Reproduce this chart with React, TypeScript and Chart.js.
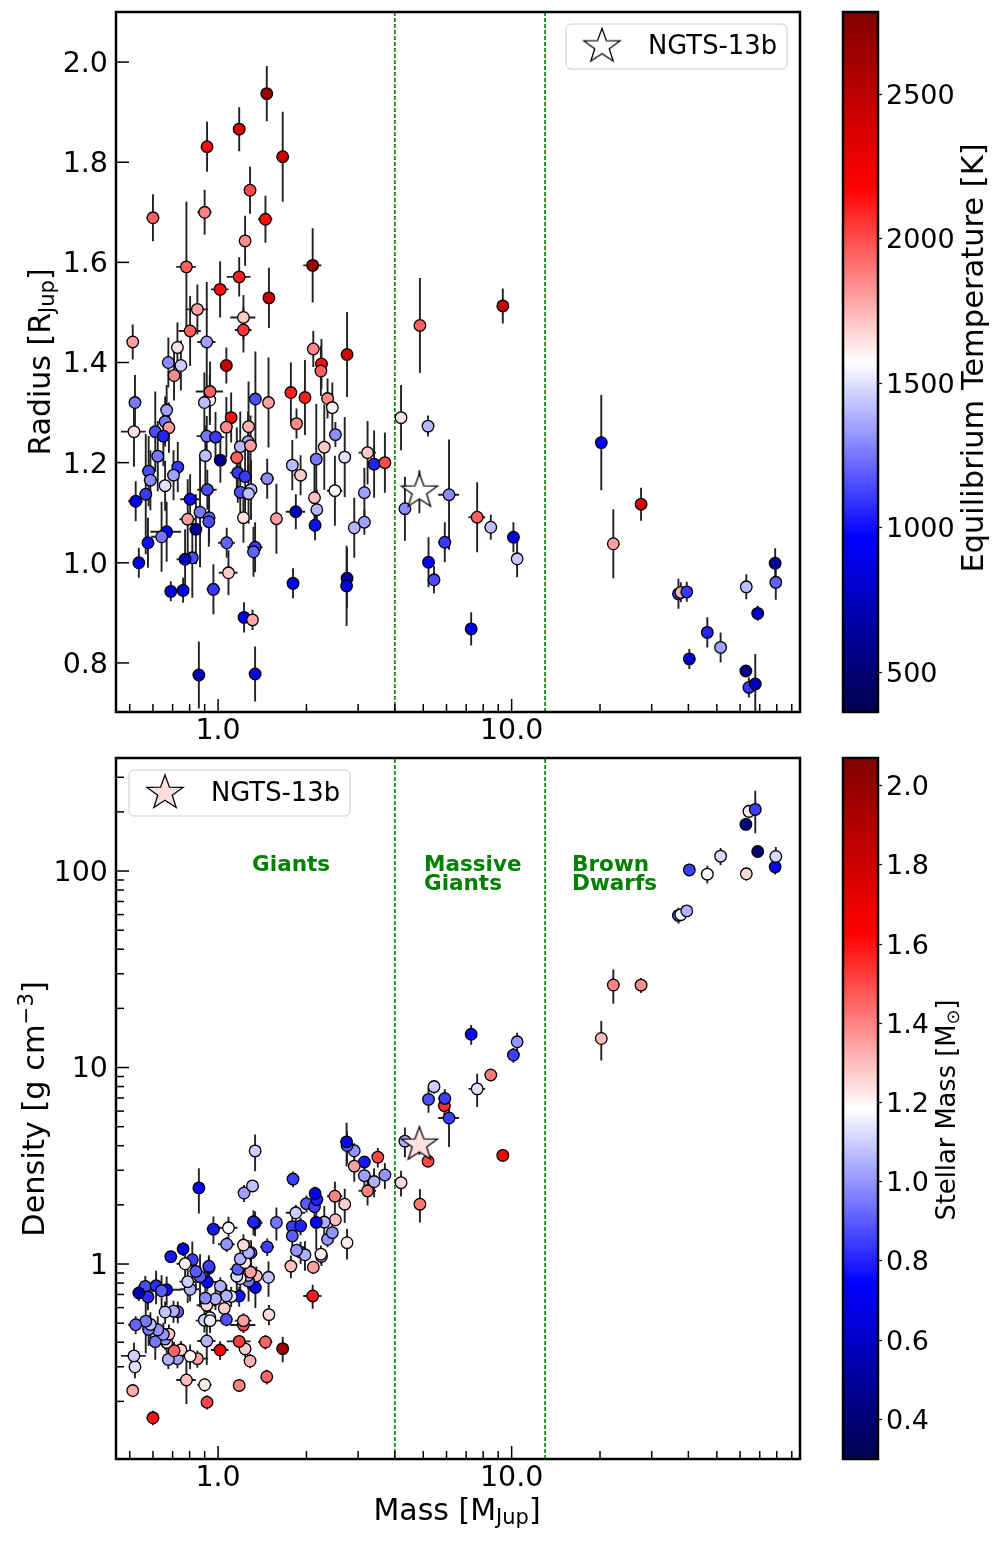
import { useEffect, useRef } from "react"
import { Chart, registerables } from "chart.js"

Chart.register(...registerables)

// Planets, same order in every list. The first 11 are only readable in the density panel.
const massValues = [
  5.9, 2.91, 3.5, 2.0, 1.79, 1.91, 0.565, 0.615, 1.05, 1.18, 1.35,
  1.465, 1.18, 0.917, 1.66, 1.285, 0.6, 0.9, 1.45, 1.236, 0.78,
  2.1, 1.18, 1.016, 1.49, 0.85, 1.22, 1.22, 0.803, 0.512, 0.915,
  0.727, 2.75, 2.11, 0.677, 0.747, 0.708, 1.067, 2.25, 2.24, 1.77,
  1.977, 2.36, 2.45, 0.937, 0.521, 0.898, 0.939, 1.34, 1.485, 0.668,
  0.66, 0.68, 1.108, 1.067, 1.27, 1.85, 2.51, 0.517, 0.611, 0.651,
  0.915, 0.98, 1.265, 1.19, 1.29, 2.3, 0.623, 0.905, 1.018, 1.158,
  2.16, 2.7, 1.79, 3.23, 3.4, 3.7, 0.729, 0.58, 0.705, 1.167,
  1.236, 1.91, 1.47, 0.588, 0.66, 1.295, 0.919, 2.5, 3.15, 1.19,
  1.27, 0.567, 0.524, 0.803, 2.13, 2.17, 1.84, 0.868, 0.932, 0.93,
  1.22, 1.58, 0.788, 0.84, 0.668, 0.642, 2.14, 3.15, 2.91, 1.07,
  0.577, 1.337, 1.32, 0.817, 0.772, 0.537, 1.085, 1.8, 2.75, 2.74,
  0.964, 1.226, 1.31, 0.86, 1.337, 0.69, 0.76, 9.33, 4.87, 4.2,
  5.19, 20.2, 27.6, 22.2, 4.33, 6.12, 7.63, 8.49, 10.14, 10.44,
  5.92, 5.21, 5.44, 7.28, 37, 37.7, 39.5, 40.3, 46.4, 51.5,
  63, 68.9, 79, 79.4, 62.8, 64.3, 67.6,
]
const massErrors = [
  0.3, 0.05, 0.05, 0.05, 0.04, 0.05, 0.03, 0.02, 0.03, 0.03, 0.03,
  0.06, 0.05, 0.03, 0.08, 0.04, 0.03, 0.05, 0.08, 0.04, 0.06,
  0.15, 0.11, 0.07, 0.06, 0.075, 0.12, 0.08, 0.07, 0.02, 0.065,
  0.03, 0.06, 0.05, 0.03, 0.03, 0.03, 0.04, 0.1, 0.1, 0.04,
  0.05, 0.05, 0.05, 0.03, 0.02, 0.03, 0.1, 0.05, 0.05, 0.03,
  0.03, 0.03, 0.04, 0.04, 0.04, 0.04, 0.05, 0.05, 0.02, 0.03,
  0.07, 0.07, 0.05, 0.05, 0.05, 0.1, 0.03, 0.03, 0.03, 0.06,
  0.05, 0.06, 0.04, 0.22, 0.05, 0.05, 0.02, 0.03, 0.03, 0.07,
  0.04, 0.1, 0.08, 0.03, 0.03, 0.04, 0.07, 0.15, 0.05, 0.05,
  0.05, 0.02, 0.03, 0.06, 0.05, 0.07, 0.14, 0.03, 0.03, 0.03,
  0.05, 0.06, 0.05, 0.04, 0.08, 0.05, 0.05, 0.05, 0.03, 0.07,
  0.02, 0.08, 0.05, 0.02, 0.05, 0.02, 0.08, 0.04, 0.06, 0.03,
  0.05, 0.04, 0.02, 0.02, 0.02, 0.02, 0.02, 0.1, 0.05, 0.05,
  0.05, 0.8, 0.4, 0.4, 0.05, 0.5, 0.5, 0.1, 0.1, 0.1,
  0.3, 0.05, 0.05, 0.1, 0.5, 0.5, 0.5, 0.5, 1.5, 0.6,
  0.6, 0.6, 0.6, 0.6, 0.6, 0.6, 0.6,
]
const radiusValues = [
  null, null, null, null, null, null, null, null, null, null, null,
  1.937, 1.866, 1.831, 1.811, 1.744, 1.689, 1.7, 1.686, 1.643, 1.591,
  1.594, 1.571, 1.546, 1.529, 1.506, 1.49, 1.465, 1.463, 1.441, 1.441,
  1.43, 1.416, 1.427, 1.4, 1.394, 1.374, 1.394, 1.397, 1.383, 1.34,
  1.33, 1.328, 1.31, 1.325, 1.32, 1.32, 1.342, 1.327, 1.32, 1.305,
  1.282, 1.27, 1.29, 1.271, 1.272, 1.278, 1.256, 1.262, 1.262, 1.253,
  1.253, 1.251, 1.242, 1.232, 1.234, 1.231, 1.213, 1.214, 1.205, 1.21,
  1.207, 1.211, 1.195, 1.22, 1.197, 1.2, 1.191, 1.183, 1.175, 1.18,
  1.172, 1.175, 1.168, 1.165, 1.154, 1.146, 1.146, 1.144, 1.14, 1.141,
  1.138, 1.137, 1.123, 1.127, 1.13, 1.106, 1.102, 1.101, 1.09, 1.082,
  1.09, 1.088, 1.087, 1.067, 1.062, 1.052, 1.075, 1.081, 1.07, 1.04,
  1.04, 1.031, 1.022, 1.01, 1.007, 1.0, 0.98, 0.959, 0.969, 0.954,
  0.947, 0.891, 0.886, 0.776, 0.778, 0.943, 0.945, 1.513, 1.474, 1.29,
  1.273, 1.24, 1.117, 1.038, 1.108, 1.136, 1.091, 1.071, 1.051, 1.008,
  1.041, 1.001, 0.966, 0.868, 0.938, 0.941, 0.942, 0.808, 0.861, 0.831,
  0.952, 0.899, 0.999, 0.961, 0.784, 0.751, 0.758,
]
const radiusErrors = [
  0, 0, 0, 0, 0, 0, 0, 0, 0, 0, 0,
  0.055, 0.044, 0.05, 0.09, 0.047, 0.047, 0.045, 0.047, 0.05, 0.13,
  0.074, 0.039, 0.056, 0.06, 0.05, 0.045, 0.045, 0.07, 0.035, 0.12,
  0.05, 0.085, 0.036, 0.05, 0.05, 0.05, 0.036, 0.05, 0.05, 0.06,
  0.075, 0.04, 0.05, 0.05, 0.055, 0.06, 0.06, 0.095, 0.09, 0.05,
  0.05, 0.05, 0.05, 0.06, 0.09, 0.03, 0.025, 0.07, 0.08, 0.06,
  0.04, 0.05, 0.06, 0.07, 0.06, 0.085, 0.07, 0.06, 0.045, 0.06,
  0.11, 0.08, 0.05, 0.063, 0.067, 0.06, 0.05, 0.07, 0.05, 0.06,
  0.07, 0.04, 0.04, 0.06, 0.05, 0.06, 0.04, 0.07, 0.05, 0.06,
  0.06, 0.12, 0.04, 0.05, 0.07, 0.04, 0.035, 0.11, 0.05, 0.05,
  0.05, 0.07, 0.08, 0.07, 0.06, 0.07, 0.03, 0.025, 0.06, 0.03,
  0.05, 0.05, 0.05, 0.08, 0.06, 0.03, 0.045, 0.03, 0.06, 0.08,
  0.05, 0.03, 0.02, 0.067, 0.055, 0.02, 0.025, 0.035, 0.095, 0.065,
  0.021, 0.095, 0.033, 0.069, 0.064, 0.11, 0.07, 0.025, 0.03, 0.037,
  0.04, 0.05, 0.027, 0.033, 0.03, 0.02, 0.02, 0.02, 0.03, 0.03,
  0.025, 0.015, 0.03, 0.035, 0.012, 0.02, 0.06,
]
const equilibriumTemps = [
  null, null, null, null, null, null, null, null, null, null, null,
  2650, 2350, 2150, 2400, 2000, 1950, 1880, 2150, 1850, 1950,
  2650, 2100, 2150, 2450, 1800, 1700, 2050, 1950, 1800, 1350,
  1650, 2400, 1850, 1300, 1450, 1850, 2450, 2150, 1950, 2100,
  2100, 1850, 1600, 1570, 1250, 1420, 1950, 1150, 1800, 1350,
  1250, 1800, 2150, 1850, 1750, 1850, 1300, 1650, 1150, 1050,
  1250, 1100, 1350, 1400, 1800, 1700, 1250, 1420, 600, 1950,
  1250, 1500, 1420, 1700, 1050, 2000, 1100, 1150, 1350, 1100,
  1100, 1700, 1300, 1300, 1500, 1400, 1150, 1550, 1350, 1150,
  1420, 1100, 950, 1000, 1720, 1400, 750, 1250, 1200, 1150,
  1650, 1800, 1800, 600, 950, 1250, 1000, 1350, 1400, 1200,
  1000, 1100, 1200, 1150, 750, 950, 1700, 950, 700, 900,
  1100, 900, 1780, 750, 900, 900, 950, 2450, 1950, 1650,
  1400, 950, 2350, 1800, 1300, 1300, 1950, 1420, 850, 1450,
  1100, 950, 1150, 950, 1100, 1750, 1100, 850, 1050, 1350,
  1420, 800, 650, 1200, 550, 1100, 750,
]
const densityValues = [
  6.4, 3.77, 3.5, 2.03, 1.55, 1.15, 0.77, 0.775, 0.595, 0.687, 0.87,
  0.267, 0.241, 0.198, 0.371, 0.321, 0.165, 0.243, 0.401, 0.37, 0.257,
  0.688, 0.404, 0.365, 0.553, 0.33, 0.489, 0.515, 0.34, 0.227, 0.406,
  0.33, 1.284, 0.963, 0.327, 0.366, 0.362, 0.522, 1.094, 1.123, 0.976,
  1.114, 1.336, 1.445, 0.534, 0.3, 0.518, 0.515, 0.76, 0.856, 0.399,
  0.415, 0.44, 0.684, 0.689, 0.818, 1.175, 1.68, 0.341, 0.403, 0.439,
  0.617, 0.664, 0.876, 0.844, 0.91, 1.635, 0.463, 0.671, 0.771, 0.867,
  1.629, 2.016, 1.391, 2.358, 2.629, 2.839, 0.572, 0.465, 0.576, 0.942,
  1.018, 1.561, 1.223, 0.493, 0.57, 1.141, 0.81, 2.214, 2.819, 1.062,
  1.143, 0.512, 0.491, 0.744, 1.957, 2.127, 1.823, 0.862, 0.954, 0.974,
  1.249, 1.627, 0.814, 0.917, 0.74, 0.731, 2.285, 3.306, 3.15, 1.261,
  0.68, 1.618, 1.64, 1.052, 1.003, 0.712, 1.529, 2.706, 4.008, 4.184,
  1.505, 2.298, 2.497, 2.44, 3.765, 1.091, 1.194, 3.57, 2.016, 2.594,
  3.336, 14.05, 26.26, 26.3, 4.22, 5.535, 7.79, 9.164, 11.58, 13.52,
  6.958, 6.888, 8.0, 14.76, 59.45, 60, 62.66, 101.3, 96.4, 119,
  96.8, 125.7, 105, 118.6, 172.8, 201.3, 205.8,
]
const densityErrors = [
  0.7, 0.35, 0.4, 0.2, 0.2, 0.15, 0.1, 0.15, 0.06, 0.08, 0.1,
  0.023, 0.017, 0.016, 0.055, 0.026, 0.014, 0.019, 0.034, 0.034, 0.063,
  0.096, 0.03, 0.04, 0.065, 0.033, 0.044, 0.047, 0.049, 0.017, 0.1,
  0.035, 0.23, 0.073, 0.035, 0.04, 0.04, 0.04, 0.117, 0.12, 0.13,
  0.19, 0.12, 0.165, 0.06, 0.038, 0.07, 0.07, 0.163, 0.175, 0.046,
  0.049, 0.052, 0.08, 0.098, 0.174, 0.083, 0.1, 0.057, 0.077, 0.063,
  0.059, 0.08, 0.127, 0.144, 0.133, 0.34, 0.08, 0.1, 0.086, 0.13,
  0.445, 0.4, 0.175, 0.37, 0.44, 0.43, 0.072, 0.082, 0.074, 0.144,
  0.18, 0.16, 0.126, 0.076, 0.074, 0.18, 0.085, 0.41, 0.37, 0.168,
  0.18, 0.16, 0.052, 0.1, 0.36, 0.23, 0.174, 0.26, 0.13, 0.135,
  0.17, 0.31, 0.18, 0.18, 0.125, 0.145, 0.19, 0.23, 0.53, 0.11,
  0.098, 0.235, 0.24, 0.25, 0.18, 0.064, 0.21, 0.25, 0.74, 1.05,
  0.24, 0.23, 0.17, 0.63, 0.8, 0.07, 0.095, 0.25, 0.39, 0.39,
  0.17, 3.2, 2.3, 5.2, 0.73, 1.6, 1.5, 0.65, 1.0, 1.5,
  0.8, 1.0, 0.65, 1.7, 5.5, 3.8, 4, 7.5, 10, 12,
  7.5, 6, 9, 14, 8, 16, 50,
]
const stellarMasses = [
  1.55, 1.0, 1.5, 0.9, 0.85, 0.9, 0.88, 0.82, 1.27, 0.78, 1.3,
  1.45, 1.4, 1.5, 1.95, 1.32, 1.6, 1.22, 1.45, 1.27, 1.3,
  1.58, 1.52, 1.65, 1.25, 1.35, 1.5, 1.35, 1.2, 1.33, 1.05,
  1.02, 1.22, 1.35, 1.05, 1.27, 1.45, 0.88, 1.05, 1.22, 1.3,
  1.05, 1.0, 1.0, 1.2, 1.13, 1.1, 1.15, 0.75, 1.08, 1.2,
  1.0, 1.28, 1.15, 1.05, 0.95, 1.0, 1.3, 1.1, 0.95, 1.0,
  1.25, 1.05, 1.08, 1.15, 1.35, 1.05, 1.0, 0.98, 1.05, 1.12,
  0.75, 1.27, 0.9, 1.4, 1.05, 1.0, 0.9, 0.95, 1.05, 0.9,
  1.22, 0.8, 0.85, 1.08, 1.08, 0.85, 0.75, 1.4, 1.02, 1.05,
  1.05, 0.95, 0.92, 1.05, 0.85, 0.8, 1.1, 0.9, 0.78, 0.85,
  1.25, 0.95, 1.1, 0.9, 0.75, 0.9, 0.72, 0.78, 1.35, 1.0,
  0.82, 0.7, 0.8, 0.85, 1.22, 0.55, 1.2, 0.85, 0.9, 0.75,
  0.78, 1.02, 1.08, 0.75, 1.1, 0.78, 0.68, 1.63, 1.42, 1.25,
  1.5, 1.3, 1.38, 1.4, 1.05, 0.85, 1.13, 1.42, 0.85, 1.0,
  0.85, 0.88, 1.1, 0.75, 0.9, 1.18, 1.05, 0.85, 1.2, 1.12,
  1.25, 0.4, 0.75, 1.12, 0.42, 1.22, 0.85,
]

// NGTS-13b
const starMass = 4.85
const starMassError = 0.1
const starRadius = 1.142
const starRadiusError = 0.043
const starDensity = 4.05
const starDensityError = 0.45
const starTopFill = "#ffffff"
const starBottomFill = "#ffe0e0"

const regionBounds = [4, 13]
const massTicks = [0.5, 0.6, 0.7, 0.8, 0.9, 1, 2, 3, 4, 5, 6, 7, 8, 9, 10, 20, 30, 40, 50, 60, 70, 80, 90]
const radiusTicks = [0.8, 1.0, 1.2, 1.4, 1.6, 1.8, 2.0]
const densityTicks = [0.2, 0.3, 0.4, 0.5, 0.6, 0.7, 0.8, 0.9, 1, 2, 3, 4, 5, 6, 7, 8, 9, 10, 20, 30, 40, 50, 60, 70, 80, 90, 100, 200, 300]
const tempTicks = [500, 1000, 1500, 2000, 2500]
const stellarTicks = [0.4, 0.6, 0.8, 1.0, 1.2, 1.4, 1.6, 1.8, 2.0]

const massRange = [0.449, 96]
const radiusRange = [0.702, 2.1]
const densityRange = [0.1018, 376]
const tempRange = [362, 2784]
const stellarRange = [0.3, 2.07]

const FONT = '"DejaVu Sans"'
const TICK_SIZE = 28.5
const BAR_TICK_SIZE = 27
// canvas "middle" sits a little high for these digits
const LABEL_NUDGE = 2.5

// seismic colormap
const seismicStops: [number, number[]][] = [
  [0, [0, 0, 76]],
  [0.25, [0, 0, 255]],
  [0.5, [255, 255, 255]],
  [0.75, [255, 0, 0]],
  [1, [128, 0, 0]],
]

function seismic(v: number | null, range: number[]) {
  if (v === null) return "rgba(0,0,0,0)"
  const t = Math.min(1, Math.max(0, (v - range[0]) / (range[1] - range[0])))
  for (let i = 1; i < seismicStops.length; i++) {
    const [t1, c1] = seismicStops[i]
    const [t0, c0] = seismicStops[i - 1]
    if (t <= t1) {
      const f = (t - t0) / (t1 - t0)
      const c = c0.map((a, k) => Math.round(a + (c1[k] - a) * f))
      return `rgb(${c[0]},${c[1]},${c[2]})`
    }
  }
  return "rgb(128,0,0)"
}

function makeStar(fill: string) {
  const c = document.createElement("canvas")
  c.width = 44
  c.height = 44
  const ctx = c.getContext("2d")!
  ctx.beginPath()
  for (let i = 0; i < 10; i++) {
    const r = i % 2 === 0 ? 1 : 0.4
    const a = -Math.PI / 2 + (i * Math.PI) / 5
    const px = 22 + 19 * r * Math.cos(a)
    const py = 22 + 18 * r * Math.sin(a)
    if (i === 0) ctx.moveTo(px, py)
    else ctx.lineTo(px, py)
  }
  ctx.closePath()
  ctx.fillStyle = fill
  ctx.fill()
  ctx.lineWidth = 1.3
  ctx.strokeStyle = "#000"
  ctx.stroke()
  return c
}

type Part = { t: string; kind?: "sub" | "sup" }

function drawRichText(ctx: CanvasRenderingContext2D, parts: Part[], cx: number, cy: number, rotation: number, size: number) {
  ctx.save()
  ctx.translate(cx, cy)
  ctx.rotate(rotation)
  ctx.fillStyle = "#000"
  ctx.textAlign = "left"
  ctx.textBaseline = "alphabetic"
  const fontFor = (p: Part) => `${p.kind ? size * 0.7 : size}px ${FONT}`
  let total = 0
  for (const p of parts) {
    ctx.font = fontFor(p)
    total += ctx.measureText(p.t).width
  }
  let x = -total / 2
  for (const p of parts) {
    ctx.font = fontFor(p)
    const dy = p.kind === "sub" ? size * 0.16 : p.kind === "sup" ? -size * 0.36 : 0
    ctx.fillText(p.t, x, size * 0.35 + dy)
    x += ctx.measureText(p.t).width
  }
  ctx.restore()
}

type PanelConfig = {
  yValues: (number | null)[]
  yErrors: number[]
  colorValues: (number | null)[]
  colorRange: number[]
  yType: "linear" | "logarithmic"
  yRange: number[]
  yTicks: number[]
  yMajor: (v: number) => boolean
  yLabel: (v: number) => string
  star: { x: number; xErr: number; y: number; yErr: number; fill: string }
  legendBox: number[]
  axisHeight: number
  paddingTop: number
  texts: { lines: string[]; mass: number; density: number[] }[]
  titles: { parts: Part[]; x: number; y: number; rotation: number; size: number }[]
}

function buildPanel(canvas: HTMLCanvasElement, cfg: PanelConfig) {
  const starCanvas = makeStar(cfg.star.fill)

  const errorBars = {
    id: "errorBars",
    beforeDatasetsDraw(chart: any) {
      const { ctx, chartArea, scales } = chart
      ctx.save()
      ctx.beginPath()
      ctx.rect(chartArea.left, chartArea.top, chartArea.width, chartArea.height)
      ctx.clip()
      ctx.strokeStyle = "#222"
      ctx.lineWidth = 1.9
      const bar = (m: number, mE: number, v: number, vE: number) => {
        const px = scales.x.getPixelForValue(m)
        const py = scales.y.getPixelForValue(v)
        ctx.beginPath()
        ctx.moveTo(scales.x.getPixelForValue(m - mE), py)
        ctx.lineTo(scales.x.getPixelForValue(m + mE), py)
        ctx.moveTo(px, scales.y.getPixelForValue(Math.max(v - vE, 1e-3)))
        ctx.lineTo(px, scales.y.getPixelForValue(v + vE))
        ctx.stroke()
      }
      massValues.forEach((m, i) => {
        const v = cfg.yValues[i]
        if (v !== null) bar(m, massErrors[i], v, cfg.yErrors[i])
      })
      bar(cfg.star.x, cfg.star.xErr, cfg.star.y, cfg.star.yErr)
      ctx.restore()
    },
  }

  const frame = {
    id: "frame",
    afterDraw(chart: any) {
      const { ctx, chartArea, scales } = chart
      ctx.save()
      // inward ticks
      ctx.strokeStyle = "#000"
      ctx.lineWidth = 1.5
      scales.x.ticks.forEach((t: any) => {
        const px = scales.x.getPixelForValue(t.value)
        ctx.beginPath()
        ctx.moveTo(px, chartArea.bottom)
        ctx.lineTo(px, chartArea.bottom - (t.major ? 13 : 8))
        ctx.stroke()
      })
      ctx.fillStyle = "#000"
      ctx.font = `${TICK_SIZE}px ${FONT}`
      ctx.textAlign = "right"
      ctx.textBaseline = "middle"
      scales.y.ticks.forEach((t: any) => {
        const py = scales.y.getPixelForValue(t.value)
        ctx.beginPath()
        ctx.moveTo(chartArea.left, py)
        ctx.lineTo(chartArea.left + (t.major ? 13 : 8), py)
        ctx.stroke()
        ctx.fillText(cfg.yLabel(t.value), chartArea.left - 8, py + LABEL_NUDGE)
      })
      ctx.lineWidth = 2.5
      ctx.strokeRect(chartArea.left, chartArea.top, chartArea.width, chartArea.height)

      // legend
      const [lx, ly, lw, lh] = cfg.legendBox
      ctx.beginPath()
      ctx.roundRect(lx, ly, lw, lh, 5)
      ctx.fillStyle = "rgba(255,255,255,0.8)"
      ctx.fill()
      ctx.lineWidth = 1
      ctx.strokeStyle = "#ccc"
      ctx.stroke()
      ctx.drawImage(starCanvas, lx + 36 - 22, ly + lh / 2 - 22)
      ctx.fillStyle = "#000"
      ctx.font = `25.8px ${FONT}`
      ctx.textAlign = "left"
      ctx.textBaseline = "middle"
      ctx.fillText("NGTS-13b", lx + 82, ly + lh / 2 + 1)

      // region names
      ctx.fillStyle = "#008000"
      ctx.font = `bold 21.5px ${FONT}`
      cfg.texts.forEach((txt) => {
        txt.lines.forEach((line, i) => {
          ctx.fillText(line, scales.x.getPixelForValue(txt.mass), scales.y.getPixelForValue(txt.density[i]))
        })
      })
      ctx.restore()

      cfg.titles.forEach((t) => drawRichText(ctx, t.parts, t.x, t.y, t.rotation, t.size))
    },
  }

  return new Chart(canvas, {
    type: "scatter",
    data: {
      datasets: [
        {
          label: "NGTS-13b",
          data: [{ x: cfg.star.x, y: cfg.star.y }],
          pointStyle: starCanvas,
          pointRadius: 5,
        },
        {
          label: "Planets",
          data: massValues.map((m, i) => ({ x: m, y: cfg.yValues[i] })),
          pointRadius: 5.8,
          pointBorderWidth: 1.3,
          pointBorderColor: "#000",
          pointBackgroundColor: cfg.colorValues.map((v) => seismic(v, cfg.colorRange)),
        },
        ...regionBounds.map((b) => ({
          label: `bound ${b}`,
          data: [
            { x: b, y: cfg.yRange[0] },
            { x: b, y: cfg.yRange[1] },
          ],
          showLine: true,
          pointRadius: 0,
          borderColor: "#118f11",
          borderWidth: 1.8,
          borderDash: [4, 2],
        })),
      ],
    } as any,
    plugins: [errorBars, frame],
    options: {
      responsive: false,
      animation: false,
      layout: { autoPadding: false, padding: { top: cfg.paddingTop, right: 30, left: 0, bottom: 0 } },
      plugins: { legend: { display: false }, tooltip: { enabled: false } },
      events: [],
      scales: {
        x: {
          type: "logarithmic",
          min: massRange[0],
          max: massRange[1],
          grid: { display: false, drawTicks: false },
          border: { display: false },
          afterBuildTicks: (axis: any) => {
            axis.ticks = massTicks.map((v) => ({ value: v, major: v === 1 || v === 10 }))
          },
          afterFit: (axis: any) => {
            axis.height = cfg.axisHeight
            axis.paddingLeft = 0
            axis.paddingRight = 0
          },
          ticks: {
            autoSkip: false,
            maxRotation: 0,
            padding: 2,
            color: "#000",
            font: { family: FONT, size: TICK_SIZE },
            callback: (v: any) => (v === 1 || v === 10 ? Number(v).toFixed(1) : ""),
          },
        },
        y: {
          type: cfg.yType,
          min: cfg.yRange[0],
          max: cfg.yRange[1],
          grid: { display: false, drawTicks: false },
          border: { display: false },
          afterBuildTicks: (axis: any) => {
            axis.ticks = cfg.yTicks.map((v) => ({ value: v, major: cfg.yMajor(v) }))
          },
          afterFit: (axis: any) => {
            axis.width = 116
            axis.paddingTop = 0
            axis.paddingBottom = 0
          },
          ticks: { display: false, autoSkip: false },
        },
      },
    } as any,
  })
}

function buildColorbar(canvas: HTMLCanvasElement, range: number[], ticks: number[], digits: number, title: Part[], titleX: number, titleY: number, titleSize: number, top: number, bottom: number) {
  const frame = {
    id: "barFrame",
    afterDraw(chart: any) {
      const { ctx, chartArea, scales } = chart
      ctx.save()
      ctx.strokeStyle = "#000"
      ctx.lineWidth = 2.5
      ctx.strokeRect(chartArea.left, chartArea.top, chartArea.width, chartArea.height)
      ctx.fillStyle = "#000"
      ctx.font = `${BAR_TICK_SIZE}px ${FONT}`
      ctx.textAlign = "left"
      ctx.textBaseline = "middle"
      scales.y.ticks.forEach((t: any) => {
        ctx.fillText(Number(t.value).toFixed(digits), chartArea.right + 8, scales.y.getPixelForValue(t.value) + LABEL_NUDGE)
      })
      ctx.restore()
      drawRichText(ctx, title, titleX, titleY, -Math.PI / 2, titleSize)
    },
  }
  return new Chart(canvas, {
    type: "bar",
    data: {
      labels: [""],
      datasets: [
        {
          data: [[range[0], range[1]]],
          barPercentage: 1,
          categoryPercentage: 1,
          backgroundColor: (c: any) => {
            const { ctx, chartArea } = c.chart
            if (!chartArea) return "#fff"
            const g = ctx.createLinearGradient(0, chartArea.bottom, 0, chartArea.top)
            seismicStops.forEach(([t, rgb]) => g.addColorStop(t, `rgb(${rgb[0]},${rgb[1]},${rgb[2]})`))
            return g
          },
        },
      ],
    } as any,
    plugins: [frame],
    options: {
      responsive: false,
      animation: false,
      events: [],
      layout: { autoPadding: false, padding: { top, bottom, left: 13, right: 0 } },
      plugins: { legend: { display: false }, tooltip: { enabled: false } },
      scales: {
        x: { display: false },
        y: {
          position: "right",
          min: range[0],
          max: range[1],
          border: { display: false },
          grid: { drawOnChartArea: false, drawTicks: true, tickLength: 4, tickColor: "#000", tickWidth: 1.2 },
          afterBuildTicks: (axis: any) => {
            axis.ticks = ticks.map((v) => ({ value: v }))
          },
          afterFit: (axis: any) => {
            axis.width = 127
            axis.paddingTop = 0
            axis.paddingBottom = 0
          },
          ticks: { display: false, autoSkip: false },
        },
      },
    } as any,
  })
}

const abs = (left: number, top: number): React.CSSProperties => ({ position: "absolute", left, top, display: "block" })

export default function App() {
  const topRef = useRef<HTMLCanvasElement>(null)
  const bottomRef = useRef<HTMLCanvasElement>(null)
  const topBarRef = useRef<HTMLCanvasElement>(null)
  const bottomBarRef = useRef<HTMLCanvasElement>(null)

  useEffect(() => {
    const charts = [
      buildPanel(topRef.current!, {
        yValues: radiusValues,
        yErrors: radiusErrors,
        colorValues: equilibriumTemps,
        colorRange: tempRange,
        yType: "linear",
        yRange: radiusRange,
        yTicks: radiusTicks,
        yMajor: () => true,
        yLabel: (v) => v.toFixed(1),
        star: { x: starMass, xErr: starMassError, y: starRadius, yErr: starRadiusError, fill: starTopFill },
        legendBox: [566, 24, 221, 45],
        axisHeight: 38,
        paddingTop: 12,
        texts: [],
        titles: [{ parts: [{ t: "Radius [R" }, { t: "Jup", kind: "sub" }, { t: "]" }], x: 39, y: 362, rotation: -Math.PI / 2, size: 30 }],
      }),
      buildPanel(bottomRef.current!, {
        yValues: densityValues,
        yErrors: densityErrors,
        colorValues: stellarMasses,
        colorRange: stellarRange,
        yType: "logarithmic",
        yRange: densityRange,
        yTicks: densityTicks,
        yMajor: (v) => v === 1 || v === 10 || v === 100,
        yLabel: (v) => (v === 1 || v === 10 || v === 100 ? String(v) : ""),
        star: { x: starMass, xErr: starMassError, y: starDensity, yErr: starDensityError, fill: starBottomFill },
        legendBox: [129, 20, 221, 46],
        axisHeight: 87,
        paddingTop: 8,
        texts: [
          { lines: ["Giants"], mass: 1.306, density: [106.2] },
          { lines: ["Massive", "Giants"], mass: 5.03, density: [106.2, 85] },
          { lines: ["Brown", "Dwarfs"], mass: 16.07, density: [106.2, 85] },
        ],
        titles: [
          { parts: [{ t: "Density [g cm" }, { t: "−3", kind: "sup" }, { t: "]" }], x: 33, y: 359, rotation: -Math.PI / 2, size: 30.4 },
          { parts: [{ t: "Mass [M" }, { t: "Jup", kind: "sub" }, { t: "]" }], x: 457, y: 759, rotation: 0, size: 30 },
        ],
      }),
      buildColorbar(topBarRef.current!, tempRange, tempTicks, 0, [{ t: "Equilibrium Temperature [K]" }], 142, 358, 30.5, 12, 23),
      buildColorbar(bottomBarRef.current!, stellarRange, stellarTicks, 1, [{ t: "Stellar Mass [M" }, { t: "⊙", kind: "sub" }, { t: "]" }], 116, 360, 25.7, 8, 87),
    ]
    return () => charts.forEach((c) => c.destroy())
  }, [])

  return (
    <div style={{ position: "absolute", left: 0, top: 0, width: 1005, height: 1546, background: "#fff", overflow: "hidden" }}>
      <canvas ref={topRef} width={830} height={750} style={abs(0, 0)} />
      <canvas ref={bottomRef} width={830} height={796} style={abs(0, 750)} />
      <canvas ref={topBarRef} width={175} height={735} style={abs(830, 0)} />
      <canvas ref={bottomBarRef} width={175} height={796} style={abs(830, 750)} />
    </div>
  )
}
